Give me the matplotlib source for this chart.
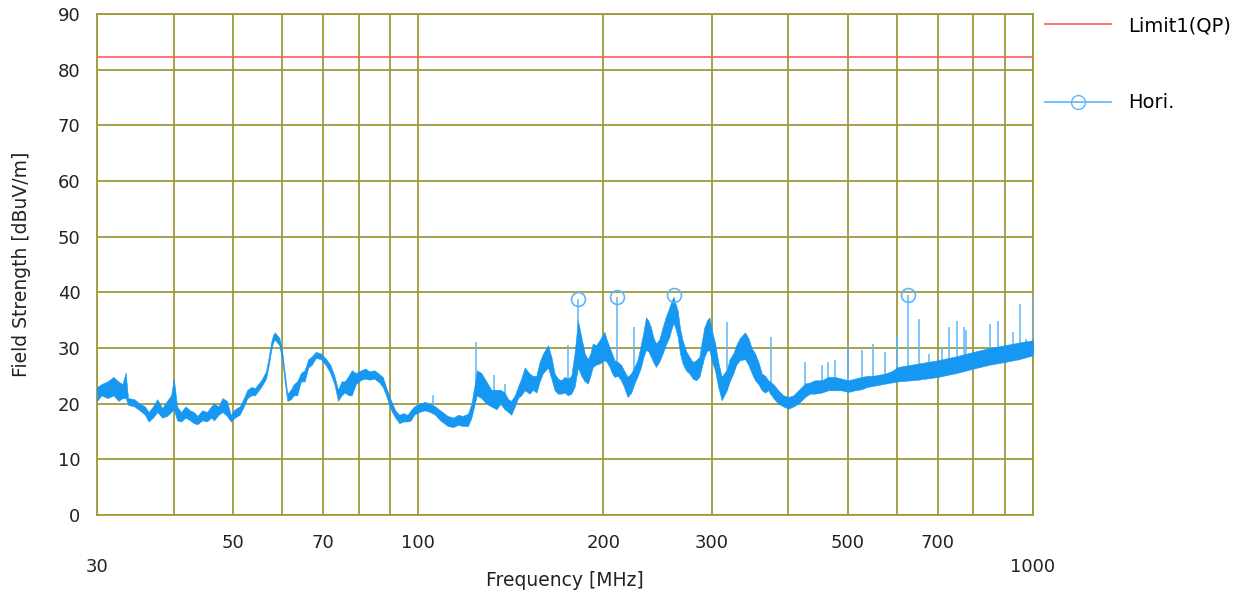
import numpy as np
import matplotlib
matplotlib.use("Agg")
import matplotlib.pyplot as plt
from matplotlib.lines import Line2D

freq_mhz = [
    30.0, 30.5, 31.2, 31.9, 32.5, 33.0, 33.4, 33.7, 34.5, 35.2, 35.9, 36.4, 37.0, 37.6, 38.3, 39.0, 39.6, 40.0, 40.5,
    41.1, 41.8, 42.5, 43.1, 43.7, 44.5, 45.3, 46.0, 46.5, 47.3, 48.0, 48.8, 49.5, 50.3, 51.2, 52.0, 52.7, 53.5, 54.2,
    55.5, 56.5, 57.0, 57.6, 58.0, 58.4, 58.9, 59.4, 60.1, 60.6, 61.2, 62.0, 62.7, 63.5, 64.4, 65.3, 66.2, 67.1, 68.1,
    69.4, 70.8, 71.9, 73.0, 74.0, 75.0, 75.9, 77.0, 77.9, 79.1, 80.7, 82.0, 83.2, 84.8, 86.4, 87.5, 88.6, 90.3, 91.7,
    93.1, 94.5, 96.0, 97.2, 98.4,
    100.3, 102.5, 104.5, 106.5, 108.5, 111.6, 114.0, 116.0, 118.0, 120.4, 122.0, 123.5, 124.5, 126.6, 129.0, 131.4,
    134.0, 136.0, 138.1, 140.0, 141.6, 143.5, 145.2, 147.0, 148.9, 151.7, 153.5, 155.6, 157.5, 159.5, 162.5, 164.6,
    166.6, 168.7, 170.8, 173.0, 175.1, 177.3, 179.5,
    181.8, 184.1, 186.5, 188.7, 190.5, 192.2, 194.5, 197.1, 200.8, 202.5, 204.6, 206.5, 208.5, 211.0, 213.7, 216.0,
    219.0, 222.0, 224.6, 227.5, 230.3, 232.5, 234.6, 236.5, 239.0, 241.0, 243.5, 246.5, 249.7, 252.5, 256.1, 258.2,
    260.2, 262.0, 264.2, 266.5, 269.1, 272.5, 276.0, 279.5, 283.0, 286.5, 289.0, 291.9, 295.0, 297.5, 300.5, 303.8,
    307.5, 311.5, 314.5, 317.4, 321.0, 325.3, 329.0, 333.4,
    340.0, 344.2, 348.5, 353.0, 357.5, 362.0, 366.5, 371.0, 378.0, 385.2, 392.5, 399.9, 407.5, 415.1, 425.6, 433.5,
    441.8, 453.0, 464.4, 476.2, 488.0, 500.5, 513.0, 526.2, 537.5, 549.6, 562.0, 574.3, 588.0, 603.5, 650.0, 700.0,
    750.0, 800.0, 850.0, 900.0, 950.0, 1000.0,
]
level_lo = [
    20.5, 21.5, 21.0, 21.5, 20.5, 21.0, 21.0, 19.8, 19.5, 18.8, 18.0, 16.8, 17.5, 18.5, 17.5, 17.8, 18.5, 19.0, 17.0,
    16.8, 17.5, 17.0, 16.5, 16.3, 17.0, 16.8, 17.5, 17.0, 18.0, 18.5, 17.8, 16.8, 17.5, 18.0, 19.5, 21.0, 21.5, 21.5,
    23.0, 24.5, 26.5, 29.5, 31.0, 31.5, 31.0, 30.5, 27.5, 24.0, 20.5, 20.8, 21.5, 21.5, 24.0, 24.0, 26.5, 27.0, 28.2,
    28.0, 26.8, 25.5, 23.5, 20.5, 21.5, 22.0, 21.5, 21.5, 23.5, 24.3, 24.5, 24.3, 24.5, 23.8, 23.0, 21.5, 18.8, 17.5,
    16.5, 16.8, 16.8, 17.0, 18.0,
    18.5, 18.8, 18.5, 18.0, 17.0, 16.0, 15.8, 16.2, 16.0, 16.0, 17.5, 20.0, 21.5, 21.0, 20.0, 19.5,
    19.0, 20.0, 19.0, 18.5, 18.0, 19.5, 21.0, 21.5, 22.4, 21.8, 22.5, 22.0, 24.0, 25.5, 26.5, 24.5,
    22.4, 21.8, 21.8, 22.0, 21.5, 21.8, 23.0,
    26.5, 25.0, 24.0, 23.6, 25.0, 26.6, 27.0, 27.2, 27.8, 27.5, 26.6, 25.5, 24.8, 25.0, 24.2, 23.0,
    21.2, 22.0, 23.6, 25.0, 26.6, 28.5, 29.6, 29.5, 28.4, 27.5, 26.6, 27.5, 29.0, 30.5, 32.0, 33.5,
    34.5, 33.5, 32.0, 29.0, 27.2, 26.0, 25.4, 24.5, 24.2, 24.8, 26.5, 28.4, 29.5, 29.6, 27.5, 26.0,
    23.0, 20.6, 21.5, 22.4, 24.0, 25.4, 27.0, 27.8,
    28.0, 27.0, 25.5, 24.2, 23.5, 22.4, 22.0, 22.4, 21.0, 20.0, 19.5, 19.1, 19.5, 20.0, 21.2, 21.8,
    21.8, 22.0, 22.4, 22.4, 22.4, 22.1, 22.4, 22.6, 23.0, 23.2, 23.4, 23.6, 23.8, 24.0, 24.3, 24.8,
    25.5, 26.3, 27.0, 27.5, 28.0, 28.7,
]
level_hi = [
    23.0, 23.5, 24.0, 24.8, 24.0, 23.5, 25.6, 21.0, 20.8, 20.0, 19.5, 18.5, 19.5, 20.8, 19.2, 20.5, 21.5, 24.5, 19.5,
    18.5, 19.5, 18.8, 18.5, 17.8, 18.8, 18.5, 19.5, 20.0, 19.5, 21.0, 20.5, 18.0, 19.0, 19.5, 21.0, 22.5, 23.0, 22.8,
    24.2, 25.8, 28.0, 31.0, 32.3, 32.8, 32.3, 31.8, 29.0, 25.5, 21.8, 22.5, 23.5, 24.0, 25.5, 26.0, 28.0, 28.5, 29.3,
    29.0, 28.0, 27.0, 25.0, 22.5, 24.0, 24.0, 25.0, 26.0, 25.5, 26.0, 26.3, 25.8, 26.0, 25.3, 24.8, 23.0, 20.5, 18.8,
    18.0, 18.3, 18.0, 18.8, 19.5,
    20.0, 20.3, 20.0, 19.5, 18.8, 17.8, 17.5, 18.0, 17.8, 18.2, 20.0, 23.5, 26.0, 25.5, 24.0, 22.5,
    22.5, 22.5, 22.0, 20.8, 20.5, 21.5, 23.0, 24.5, 26.5, 25.4, 25.0, 25.0, 27.5, 29.0, 30.5, 28.4,
    25.4, 24.5, 24.2, 24.8, 24.5, 25.0, 29.0,
    34.9, 32.0, 29.0, 28.0, 29.0, 30.8, 30.5, 31.4, 32.9, 31.5, 30.2, 29.0, 27.8, 27.5, 27.0, 26.0,
    24.8, 25.5, 26.6, 28.0, 30.8, 33.0, 35.5, 35.0, 33.7, 32.0, 30.8, 31.5, 33.7, 35.5, 37.3, 38.5,
    39.2, 38.0, 36.7, 33.5, 31.4, 29.5, 28.4, 27.5, 27.8, 28.4, 31.0, 33.7, 35.0, 35.5, 33.0, 31.0,
    27.5, 24.8, 25.5, 26.0, 28.0, 29.0, 30.5, 31.8,
    32.8, 31.8, 30.0, 29.0, 27.5, 25.4, 25.0, 24.2, 23.5, 22.4, 21.5, 21.2, 21.5, 22.4, 23.6, 23.8,
    24.2, 24.2, 24.8, 24.8, 24.5, 24.2, 24.5, 24.8, 25.0, 25.0, 25.2, 25.4, 25.8, 26.6, 27.2, 27.8,
    28.5, 29.3, 30.0, 30.5, 31.0, 31.4,
]

# narrow single-frequency spikes
spike_mhz = [105.7, 124.2, 133.0, 138.1, 175.1, 181.8, 210.5, 224.6, 317.4, 374.8, 425.6, 453.0, 464.4, 476.2,
             500.5, 526.2, 549.6, 574.3, 599.7, 625.0, 652.1, 676.3, 711.2, 729.2, 752.5, 771.4, 778.2, 851.7,
             876.6, 928.2, 951.8, 975.9, 1000.0]
spike_db = [21.5, 31.1, 25.1, 23.6, 30.5, 38.8, 39.1, 33.7, 34.6, 32.0, 27.5, 26.9, 27.5, 27.8,
            30.2, 29.6, 30.8, 29.3, 32.3, 39.6, 35.2, 29.0, 30.2, 33.7, 34.9, 33.7, 33.2, 34.4,
            34.9, 32.8, 37.9, 31.7, 40.0]

# marked peaks
peak_mhz = [181.8, 210.5, 261.0, 625.0]
peak_db = [38.8, 39.1, 39.6, 39.6]

limit_db = 82.3
grid_mhz = [30, 40, 50, 60, 70, 80, 90, 100, 200, 300, 400, 500, 600, 700, 800, 900, 1000]
xtick_mhz = [50, 70, 100, 200, 300, 500, 700]
xtick_low = [30, 1000]
ytick_db = list(range(0, 91, 10))

olive = "#9f9b3a"
blue = "#1597f2"
blue_light = "#5cb6fb"
red = "#ff5a5a"

plt.rcParams["font.family"] = ["DejaVu Sans"]

fig = plt.figure(figsize=(12.49, 5.96), dpi=100)
ax = fig.add_axes([97 / 1249, 1 - 515 / 596, 936 / 1249, 501 / 596])
ax.set_xscale("log")
ax.set_xlim(30, 1000)
ax.set_ylim(0, 90)

for f in grid_mhz:
    ax.axvline(f, color=olive, lw=1.3, zorder=1)
for y in ytick_db:
    ax.axhline(y, color=olive, lw=1.3, zorder=1)
for s in ax.spines.values():
    s.set_color(olive)
    s.set_linewidth(1.3)

lim_line = ax.axhline(limit_db, color=red, lw=1.2, zorder=3)

f = np.array(freq_mhz)
ax.fill_between(f, level_lo, level_hi, color=blue, lw=0.4, zorder=4)
base = np.interp(spike_mhz, f, level_lo)
ax.vlines(spike_mhz, base, spike_db, color=blue_light, lw=1.1, zorder=3)
ax.plot(peak_mhz, peak_db, "o", ms=10, mfc="none", mec=blue_light, mew=1.2, zorder=5)

ax.set_xticks(xtick_mhz, [str(v) for v in xtick_mhz])
ax.set_xticks(xtick_low, [str(v) for v in xtick_low], minor=True)
ax.tick_params(axis="x", which="major", length=0, pad=14, labelsize=13, labelcolor="#222222")
ax.tick_params(axis="x", which="minor", length=0, pad=31, labelsize=13, labelcolor="#222222")
ax.set_yticks(ytick_db)
ax.tick_params(axis="y", length=0, pad=12, labelsize=13, labelcolor="#222222")

ax.set_xlabel("Frequency [MHz]", fontsize=13.5, color="#222222")
ax.xaxis.set_label_coords(0.5, -0.112)
ax.set_ylabel("Field Strength [dBuV/m]", fontsize=13.5, color="#222222")
ax.yaxis.set_label_coords(-0.07, 0.5)

hori = Line2D([], [], color=blue_light, lw=1.2, marker="o", ms=10, mfc="none", mec=blue_light)
fig.legend([lim_line, hori], ["Limit1(QP)", "Hori."], loc="upper left",
           bbox_to_anchor=(1045 / 1249, 1 - 16 / 596), frameon=False, fontsize=14,
           handlelength=3.4, handletextpad=0.85, labelspacing=3.0, borderpad=0, borderaxespad=0)

fig.savefig("out.png", dpi=100)
